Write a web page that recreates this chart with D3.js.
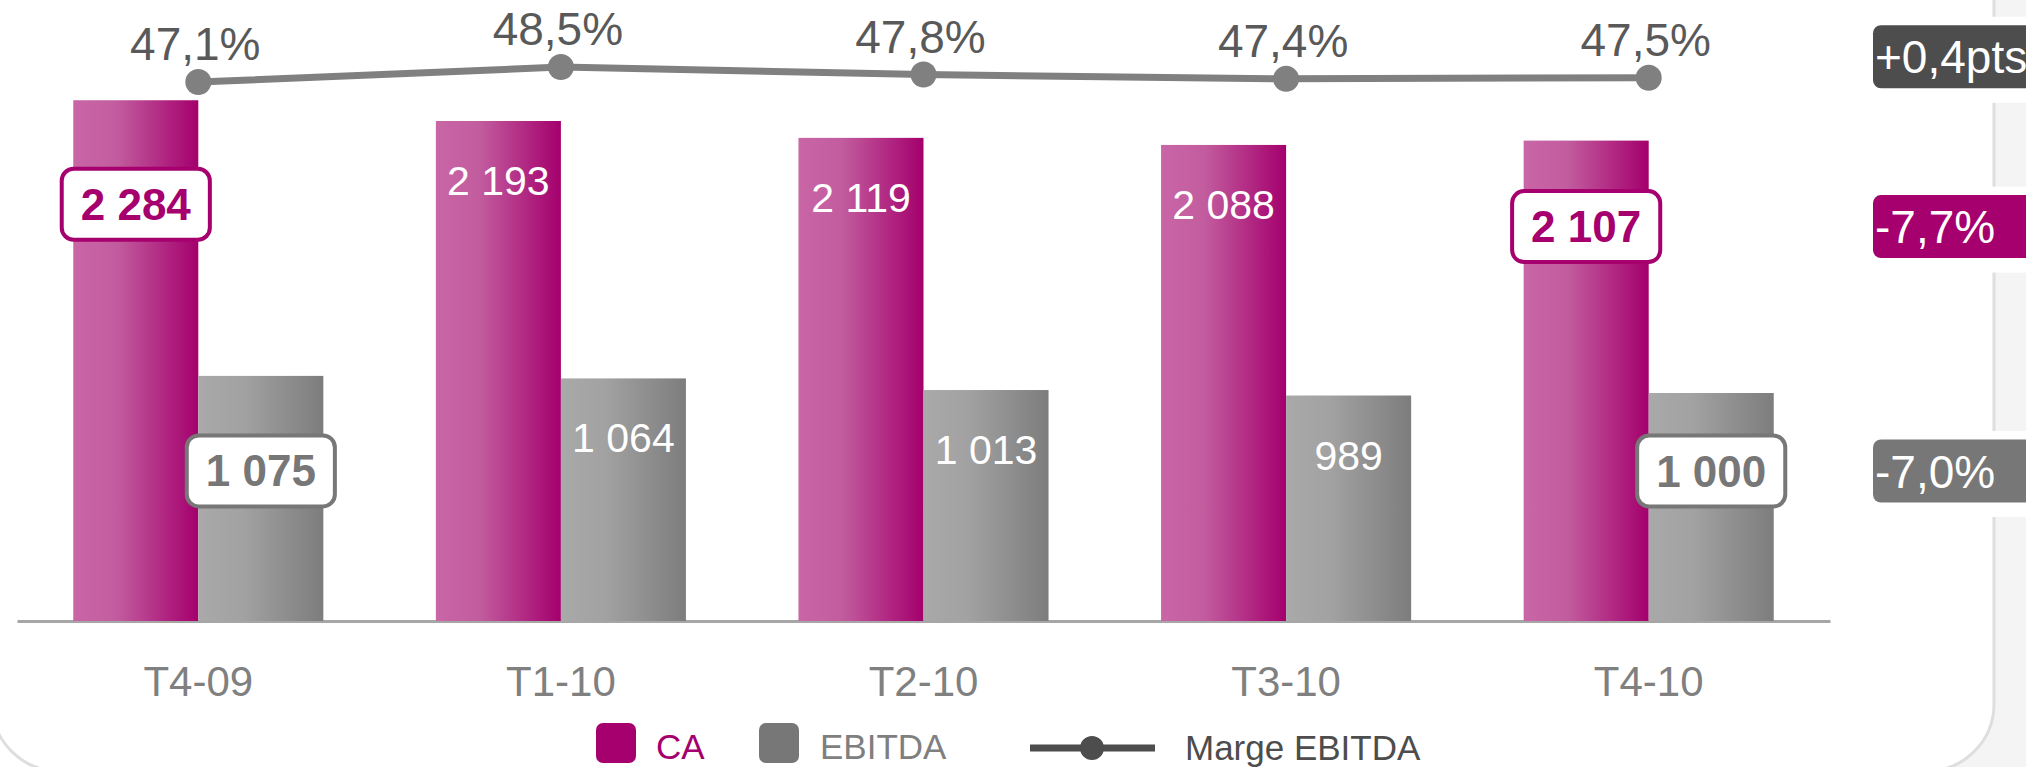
<!DOCTYPE html>
<html>
<head>
<meta charset="utf-8">
<script src="https://cdn.jsdelivr.net/npm/d3@7/dist/d3.min.js"></script>
<style>
  html, body { margin: 0; padding: 0; background: #fff; }
  svg { display: block; font-family: "Liberation Sans", Arial, sans-serif; }
</style>
</head>
<body>
<svg id="chart" width="2026" height="767"></svg>
<script>
// CA / EBITDA par trimestre, avec marge EBITDA

const categories = ["T4-09", "T1-10", "T2-10", "T3-10", "T4-10"];
const caValues = [2284, 2193, 2119, 2088, 2107];
const ebitdaValues = [1075, 1064, 1013, 989, 1000];
const margeValues = [47.1, 48.5, 47.8, 47.4, 47.5];
const highlighted = ["T4-09", "T4-10"];
const variations = ["+0,4pts", "-7,7%", "-7,0%"];
const seriesNames = ["CA", "EBITDA"];

const fr = d3.formatLocale({ decimal: ",", thousands: " ", grouping: [3], currency: ["", " €"] });
const fmtInt = fr.format(",d");
const fmtPct = v => fr.format(".1f")(v) + "%";

const svg = d3.select("#chart");
const width = +svg.attr("width");
const height = +svg.attr("height");

// background + card
svg.append("rect").attr("x", 1900).attr("y", 0).attr("width", width - 1900).attr("height", height).attr("fill", "#f4f4f4");
svg.append("rect")
  .attr("x", -8).attr("y", -200).attr("width", 2002).attr("height", 971)
  .attr("rx", 67).attr("ry", 67)
  .attr("fill", "#fff").attr("stroke", "#dedede").attr("stroke-width", 3);

const defs = svg.append("defs");
function gradient(id, stops) {
  const g = defs.append("linearGradient").attr("id", id)
    .attr("x1", "0%").attr("x2", "100%").attr("y1", "0%").attr("y2", "0%");
  stops.forEach(s => g.append("stop").attr("offset", s[0]).attr("stop-color", s[1]));
}
gradient("gradCA", [["0%", "#c966a6"], ["35%", "#c25c9e"], ["100%", "#a4006d"]]);
gradient("gradEB", [["0%", "#a9a9a9"], ["35%", "#a2a2a2"], ["100%", "#7d7d7d"]]);

const x0 = d3.scaleBand().domain(categories).range([17, 1830]).paddingInner(0).paddingOuter(0);
const x1 = d3.scaleBand().domain(seriesNames).range([0, x0.bandwidth()]).paddingInner(0).paddingOuter(0.45);
const y = d3.scaleLinear().domain([0, 2500]).range([621, 51]);
const y2 = d3.scaleLinear().domain([40, 50]).range([158, 51]);

const fills = { CA: "url(#gradCA)", EBITDA: "url(#gradEB)" };
const strong = { CA: "#a5006e", EBITDA: "#777777" };
// vertical offset of the boxed labels from the bar top (first / last quarter)
const boxOffset = { CA: [104, 86], EBITDA: [95, 78] };

const rows = categories.map((c, i) => ({
  cat: c,
  values: [
    { s: "CA", v: caValues[i] },
    { s: "EBITDA", v: ebitdaValues[i] }
  ],
  marge: margeValues[i]
}));

// axis
const axis = svg.append("g")
  .attr("transform", `translate(0,${y(0)})`)
  .call(d3.axisBottom(x0).tickSize(0).tickSizeOuter(0).tickPadding(45));
axis.select(".domain").attr("stroke", "#a6a6a6").attr("stroke-width", 3);
axis.selectAll("text")
  .attr("font-family", "'Liberation Sans', Arial, sans-serif")
  .attr("font-size", 42).attr("fill", "#808080");

// bars
const groups = svg.append("g").selectAll("g")
  .data(rows).enter().append("g")
  .attr("transform", d => `translate(${x0(d.cat)},0)`);

groups.selectAll("rect")
  .data(d => d.values).enter().append("rect")
  .attr("x", d => x1(d.s))
  .attr("y", d => y(d.v))
  .attr("width", x1.bandwidth())
  .attr("height", d => y(0) - y(d.v))
  .attr("fill", d => fills[d.s]);

// value labels
groups.each(function(row) {
  const g = d3.select(this);
  const hi = highlighted.indexOf(row.cat);
  row.values.forEach(d => {
    const cx = x1(d.s) + x1.bandwidth() / 2;
    if (hi < 0) {
      g.append("text")
        .attr("x", cx).attr("y", y(d.v) + 74)
        .attr("text-anchor", "middle")
        .attr("font-size", 41).attr("fill", "#fff")
        .text(fmtInt(d.v));
    } else {
      const cy = y(d.v) + boxOffset[d.s][hi];
      const box = g.append("rect")
        .attr("fill", "#fff").attr("stroke", strong[d.s]).attr("stroke-width", 4)
        .attr("rx", 12).attr("ry", 12);
      const t = g.append("text")
        .attr("x", cx).attr("y", cy + 15.5)
        .attr("text-anchor", "middle")
        .attr("font-size", 44).attr("font-weight", "bold")
        .attr("fill", strong[d.s])
        .text(fmtInt(d.v));
      const w = t.node().getComputedTextLength() + 38;
      box.attr("x", cx - w / 2).attr("y", cy - 35.5).attr("width", w).attr("height", 71);
    }
  });
});

// marge line
const cxOf = d => x0(d.cat) + x0.bandwidth() / 2;
svg.append("path")
  .datum(rows)
  .attr("d", d3.line().x(cxOf).y(d => y2(d.marge)))
  .attr("fill", "none").attr("stroke", "#808080").attr("stroke-width", 7);

svg.append("g").selectAll("circle")
  .data(rows).enter().append("circle")
  .attr("cx", cxOf).attr("cy", d => y2(d.marge)).attr("r", 13)
  .attr("fill", "#808080");

svg.append("g").selectAll("text")
  .data(rows).enter().append("text")
  .attr("x", d => cxOf(d) - 3).attr("y", d => y2(d.marge) - 22)
  .attr("text-anchor", "middle")
  .attr("font-size", 46).attr("fill", "#595959")
  .text(d => fmtPct(d.marge));

// variation badges on the right, aligned on the last quarter
const last = rows[rows.length - 1];
const badgeY = [
  y2(last.marge) - 21,
  y(last.values[0].v) + boxOffset.CA[1],
  y(last.values[1].v) + boxOffset.EBITDA[1]
];
const badgeColors = ["#4d4d4d", "#a5006e", "#777777"];
const badges = svg.append("g").selectAll("g")
  .data(variations).enter().append("g");
badges.append("rect")
  .attr("x", 1980).attr("y", (d, i) => badgeY[i] - 40)
  .attr("width", 60).attr("height", 86).attr("fill", "#fff");
badges.append("rect")
  .attr("x", 1873).attr("y", (d, i) => badgeY[i] - 31.5)
  .attr("width", 180).attr("height", 63).attr("rx", 8).attr("ry", 8)
  .attr("fill", (d, i) => badgeColors[i]);
badges.append("text")
  .attr("x", 1875).attr("y", (d, i) => badgeY[i] + 16.5)
  .attr("font-size", 46).attr("fill", "#fff")
  .text(d => d);

// legend
const legend = svg.append("g");
legend.append("rect").attr("x", 596).attr("y", 723).attr("width", 40).attr("height", 40)
  .attr("rx", 7).attr("fill", "#a5006e");
legend.append("text").attr("x", 656).attr("y", 759).attr("font-size", 35)
  .attr("fill", "#a5006e").text("CA");
legend.append("rect").attr("x", 759).attr("y", 723).attr("width", 40).attr("height", 40)
  .attr("rx", 7).attr("fill", "#777777");
legend.append("text").attr("x", 820).attr("y", 759).attr("font-size", 35)
  .attr("fill", "#7f7f7f").text("EBITDA");
legend.append("line").attr("x1", 1030).attr("x2", 1155).attr("y1", 748).attr("y2", 748)
  .attr("stroke", "#4d4d4d").attr("stroke-width", 7);
legend.append("circle").attr("cx", 1092).attr("cy", 748).attr("r", 12).attr("fill", "#4d4d4d");
legend.append("text").attr("x", 1185).attr("y", 760).attr("font-size", 35)
  .attr("fill", "#4d4d4d").text("Marge EBITDA");
</script>
</body>
</html>
